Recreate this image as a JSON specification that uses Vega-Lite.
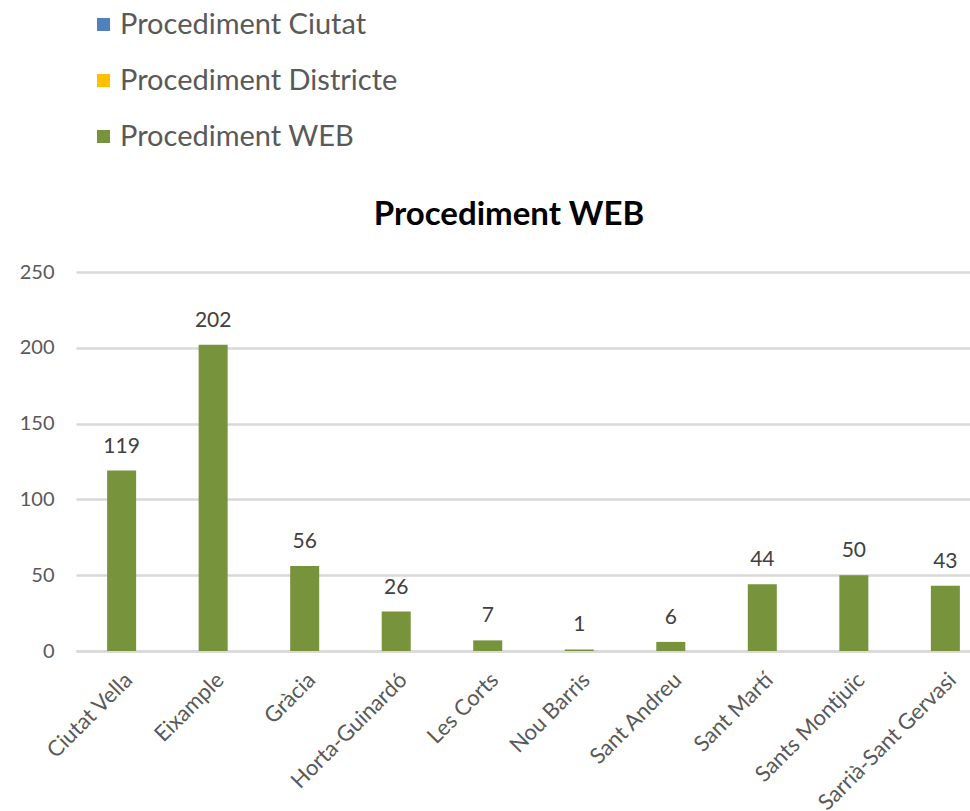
{
  "$schema": "https://vega.github.io/schema/vega-lite/v6.json",
  "autosize": {"type": "none"},
  "padding": {"left": 76, "top": 272, "right": 0, "bottom": 160},
  "width": 894,
  "height": 379,
  "background": "white",
  "config": {
    "font": "Lato",
    "view": {"stroke": null}
  },
  "title": {
    "text": "Procediment WEB",
    "font": "Lato",
    "fontSize": 33,
    "fontWeight": "bold",
    "color": "#000000",
    "anchor": "middle",
    "baseline": "alphabetic",
    "dx": -14,
    "offset": -248
  },
  "data": {
    "values": [
      {"districte": "Ciutat Vella", "valor": 119, "serie": "Procediment WEB"},
      {"districte": "Eixample", "valor": 202, "serie": "Procediment WEB"},
      {"districte": "Gràcia", "valor": 56, "serie": "Procediment WEB"},
      {"districte": "Horta-Guinardó", "valor": 26, "serie": "Procediment WEB"},
      {"districte": "Les Corts", "valor": 7, "serie": "Procediment WEB"},
      {"districte": "Nou Barris", "valor": 1, "serie": "Procediment WEB"},
      {"districte": "Sant Andreu", "valor": 6, "serie": "Procediment WEB"},
      {"districte": "Sant Martí", "valor": 44, "serie": "Procediment WEB"},
      {"districte": "Sants Montjuïc", "valor": 50, "serie": "Procediment WEB"},
      {"districte": "Sarrià-Sant Gervasi", "valor": 43, "serie": "Procediment WEB"}
    ]
  },
  "encoding": {
    "x": {
      "field": "districte",
      "type": "nominal",
      "sort": null,
      "title": null,
      "scale": {"range": [0, 915], "paddingInner": 0.683, "paddingOuter": 0.34},
      "axis": {
        "labelAngle": -45,
        "labelFontSize": 22,
        "labelColor": "#595959",
        "labelPadding": 18,
        "ticks": false,
        "domain": true,
        "domainColor": "#D9D9D9",
        "domainWidth": 2.5,
        "labelOverlap": false,
        "labelLimit": 300
      }
    },
    "y": {
      "field": "valor",
      "type": "quantitative",
      "title": null,
      "scale": {"domain": [0, 250]},
      "axis": {
        "values": [0, 50, 100, 150, 200, 250],
        "labelFontSize": 20,
        "labelColor": "#595959",
        "labelPadding": 22,
        "ticks": false,
        "domain": false,
        "gridColor": "#D9D9D9",
        "gridWidth": 2.5
      }
    }
  },
  "layer": [
    {
      "mark": {"type": "bar"},
      "encoding": {
        "color": {
          "field": "serie",
          "type": "nominal",
          "scale": {
            "domain": ["Procediment Ciutat", "Procediment Districte", "Procediment WEB"],
            "range": ["#4F81BD", "#FFC000", "#77933C"]
          },
          "legend": {
            "title": null,
            "orient": "none",
            "legendX": 13,
            "legendY": -262,
            "direction": "vertical",
            "symbolType": "square",
            "symbolSize": 170,
            "symbolStrokeWidth": 0,
            "labelFontSize": 29,
            "labelColor": "#595959",
            "labelOffset": 2,
            "labelLimit": 500,
            "rowPadding": 26,
            "padding": 0,
            "values": ["Procediment Ciutat", "Procediment Districte", "Procediment WEB"],
            "encode": {
              "symbols": {
                "update": {
                  "fill": {"signal": "({'Procediment Ciutat': '#4F81BD', 'Procediment Districte': '#FFC000', 'Procediment WEB': '#9BBB59'})[datum.value]"},
                  "opacity": {"value": 1}
                }
              }
            }
          }
        }
      }
    },
    {
      "mark": {"type": "text", "baseline": "alphabetic", "dy": -18, "fontSize": 21, "color": "#404040"},
      "encoding": {
        "text": {"field": "valor", "type": "quantitative"}
      }
    }
  ]
}
